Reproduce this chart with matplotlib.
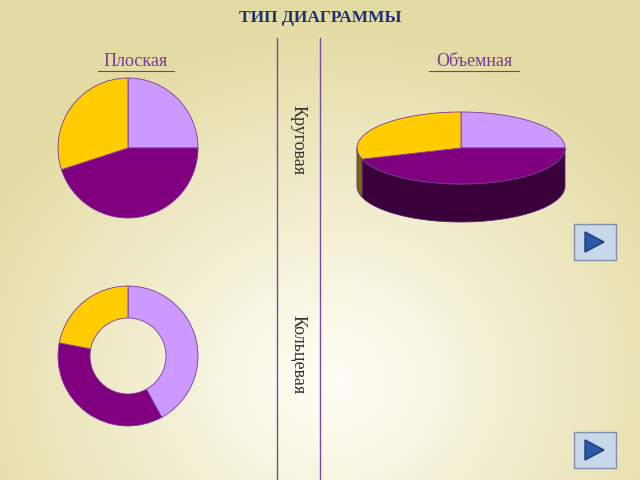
import numpy as np
import matplotlib
matplotlib.use("Agg")
import matplotlib.pyplot as plt
from matplotlib.patches import Polygon, Rectangle

title = "ТИП ДИАГРАММЫ"
col_labels = ["Плоская", "Объемная"]
row_labels = ["Круговая", "Кольцевая"]
pie_values = [25, 45, 30]
donut_values = [42, 36, 22]
colors = ["#cc99ff", "#800080", "#ffcc00"]
side_colors = ["#7a5a9a", "#3a003a", "#7a6a10"]

fig = plt.figure(figsize=(6.4, 4.8), dpi=100)
ax = fig.add_axes([0, 0, 1, 1])
ax.set_xlim(0, 640); ax.set_ylim(0, 480); ax.axis("off")

yy, xx = np.mgrid[0:480, 0:640]
d = np.sqrt(((xx - 330) / 400) ** 2 + ((yy - 380) / 360) ** 2)
d = np.clip(d, 0, 1)[..., None]
c0 = np.array([1.0, 1.0, 0.97]); c1 = np.array([0.89, 0.86, 0.64])
ax.imshow(c0 * (1 - d) + c1 * d, extent=[0, 640, 0, 480], origin="upper", zorder=0)
ax.set_aspect("equal")

ax.text(320, 462, title, ha="center", va="center", fontsize=12.5, fontweight="bold",
        family="Liberation Serif", color="#1f3070")
for x, s in zip([136, 474], col_labels):
    ax.text(x, 418, s, ha="center", va="center", fontsize=13, family="Liberation Serif", color="#7a3a9a")
ax.plot([98, 174], [409, 409], color="#7a3a9a", lw=0.8)
ax.plot([429, 519], [409, 409], color="#7a3a9a", lw=0.8)
ax.plot([277, 277], [0, 442], color="#7a4aa0", lw=1)
ax.plot([320, 320], [0, 442], color="#7a4aa0", lw=1)
ax.text(298, 340, row_labels[0], rotation=-90, ha="center", va="center", fontsize=13,
        family="Liberation Serif", color="#333333")
ax.text(298, 125, row_labels[1], rotation=-90, ha="center", va="center", fontsize=13,
        family="Liberation Serif", color="#333333")

ax.pie(pie_values, colors=colors, startangle=90, counterclock=False, center=(128, 332),
       radius=70, wedgeprops=dict(edgecolor="#7a3a9a", lw=0.6), frame=True)
ax.pie(donut_values, colors=colors, startangle=90, counterclock=False, center=(128, 124),
       radius=70, wedgeprops=dict(width=32, edgecolor="#7a3a9a", lw=0.6), frame=True)
ax.set_xlim(0, 640); ax.set_ylim(0, 480); ax.axis("off")

cx, cy, rx, ry, dep = 461, 332, 104, 36, 38
fr = np.cumsum([0] + pie_values) / sum(pie_values)
angs = 90 - 360 * fr
for i in range(3):
    a0, a1 = angs[i + 1], angs[i]
    tt = np.radians(np.linspace(a0, a1, 200))
    tt = tt[np.sin(tt) <= 0]
    if len(tt) > 1:
        xs = cx + rx * np.cos(tt); ys = cy + ry * np.sin(tt)
        poly = np.vstack([np.column_stack([xs, ys]), np.column_stack([xs[::-1], ys[::-1] - dep])])
        ax.add_patch(Polygon(poly, closed=True, fc=side_colors[i], ec="#5a2a6a", lw=0.6, zorder=3))
for i in range(3):
    a0, a1 = angs[i + 1], angs[i]
    tt = np.radians(np.linspace(a0, a1, 100))
    pts = np.vstack([[cx, cy], np.column_stack([cx + rx * np.cos(tt), cy + ry * np.sin(tt)])])
    ax.add_patch(Polygon(pts, closed=True, fc=colors[i], ec="#7a3a9a", lw=0.6, zorder=4))

for by in [238, 30]:
    ax.add_patch(Rectangle((574, by - 18), 42, 36, fc="#c8d8e8", ec="#8090a8", lw=1, zorder=5))
    ax.add_patch(Polygon([[585, by - 10], [585, by + 10], [604, by]], closed=True,
                         fc="#2a5aa8", ec="#1a3a78", zorder=6))

fig.savefig("out.png", dpi=100)
